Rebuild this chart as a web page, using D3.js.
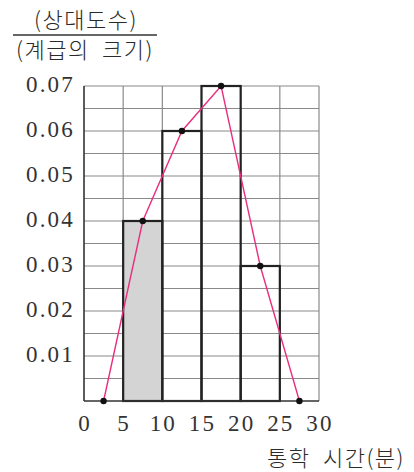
<!DOCTYPE html>
<html>
<head>
<meta charset="utf-8">
<script src="https://cdn.jsdelivr.net/npm/d3@7"></script>
<style>
  body { margin: 0; background: #fff; }
  svg { display: block; }
  .num { font-family: "Liberation Serif", "DejaVu Serif", serif; font-size: 23px; letter-spacing: 2.2px; fill: #333; }
  .kr { font-family: "Noto Sans CJK KR", sans-serif; font-size: 22px; letter-spacing: 1.5px; word-spacing: 6px; fill: #2a2a2a; font-weight: 300; }
</style>
</head>
<body>
<script>
// class boundaries and the values per class
var classStarts = [5, 10, 15, 20];
var classWidth = 5;
var densities = [0.04, 0.06, 0.07, 0.03];
var shaded = [true, false, false, false];
// polygon points (class midpoints, including the empty classes at both ends)
var polyX = [2.5, 7.5, 12.5, 17.5, 22.5, 27.5];
var polyY = [0, 0.04, 0.06, 0.07, 0.03, 0];
var xTicks = [0, 5, 10, 15, 20, 25, 30];
var yTicks = [0.01, 0.02, 0.03, 0.04, 0.05, 0.06, 0.07];

const W = 414, H = 472;
const svg = d3.select('body').append('svg').attr('width', W).attr('height', H);

const x = d3.scaleLinear().domain([0, 30]).range([84, 319]);
const y = d3.scaleLinear().domain([0, 0.07]).range([401, 86]);

// grid
const gridY = d3.range(0.005, 0.0701, 0.005);
svg.append('g').selectAll('line').data(gridY).enter().append('line')
  .attr('x1', x(0)).attr('x2', x(30))
  .attr('y1', d => y(d)).attr('y2', d => y(d))
  .attr('stroke', '#8a8a8a').attr('stroke-width', 1.2);
svg.append('g').selectAll('line').data(xTicks.slice(1)).enter().append('line')
  .attr('x1', d => x(d)).attr('x2', d => x(d))
  .attr('y1', y(0)).attr('y2', y(0.07))
  .attr('stroke', '#8a8a8a').attr('stroke-width', 1.2);

// bars
const bars = classStarts.map((s, i) => ({ s: s, v: densities[i], fill: shaded[i] }));
svg.append('g').selectAll('rect').data(bars).enter().append('rect')
  .attr('x', d => x(d.s))
  .attr('y', d => y(d.v))
  .attr('width', d => x(d.s + classWidth) - x(d.s))
  .attr('height', d => y(0) - y(d.v))
  .attr('fill', d => d.fill ? '#d4d4d4' : 'none')
  .attr('stroke', '#222').attr('stroke-width', 2.2);

// axes lines
svg.append('line').attr('x1', x(0)).attr('x2', x(0)).attr('y1', y(0)).attr('y2', y(0.07))
  .attr('stroke', '#333').attr('stroke-width', 1.6);
svg.append('line').attr('x1', x(0)).attr('x2', x(30)).attr('y1', y(0)).attr('y2', y(0))
  .attr('stroke', '#333').attr('stroke-width', 1.6);

// polygon
const pts = polyX.map((d, i) => [d, polyY[i]]);
svg.append('path')
  .attr('d', d3.line().x(d => x(d[0])).y(d => y(d[1]))(pts))
  .attr('fill', 'none').attr('stroke', '#ea2e7f').attr('stroke-width', 1.4);
svg.append('g').selectAll('circle').data(pts).enter().append('circle')
  .attr('cx', d => x(d[0])).attr('cy', d => y(d[1])).attr('r', 3.2)
  .attr('fill', '#111');

// tick labels
svg.append('g').selectAll('text').data(yTicks).enter().append('text')
  .attr('class', 'num').attr('x', 75).attr('y', d => y(d)).attr('dy', '0.25em')
  .attr('text-anchor', 'end').text(d => d.toFixed(2));
svg.append('g').selectAll('text').data(xTicks).enter().append('text')
  .attr('class', 'num').attr('x', d => x(d) + 1).attr('y', 431)
  .attr('text-anchor', 'middle').text(d => d);

// y label (fraction)
svg.append('text').attr('class', 'kr').attr('x', 86).attr('y', 28)
  .attr('text-anchor', 'middle').text('(상대도수)');
svg.append('line').attr('x1', 13).attr('x2', 157).attr('y1', 35).attr('y2', 35)
  .attr('stroke', '#333').attr('stroke-width', 1.3);
svg.append('text').attr('class', 'kr').attr('x', 85).attr('y', 58)
  .attr('text-anchor', 'middle').text('(계급의 크기)');

// x label
svg.append('text').attr('class', 'kr').attr('x', 405).attr('y', 466)
  .attr('text-anchor', 'end').text('통학 시간(분)');
</script>
</body>
</html>
